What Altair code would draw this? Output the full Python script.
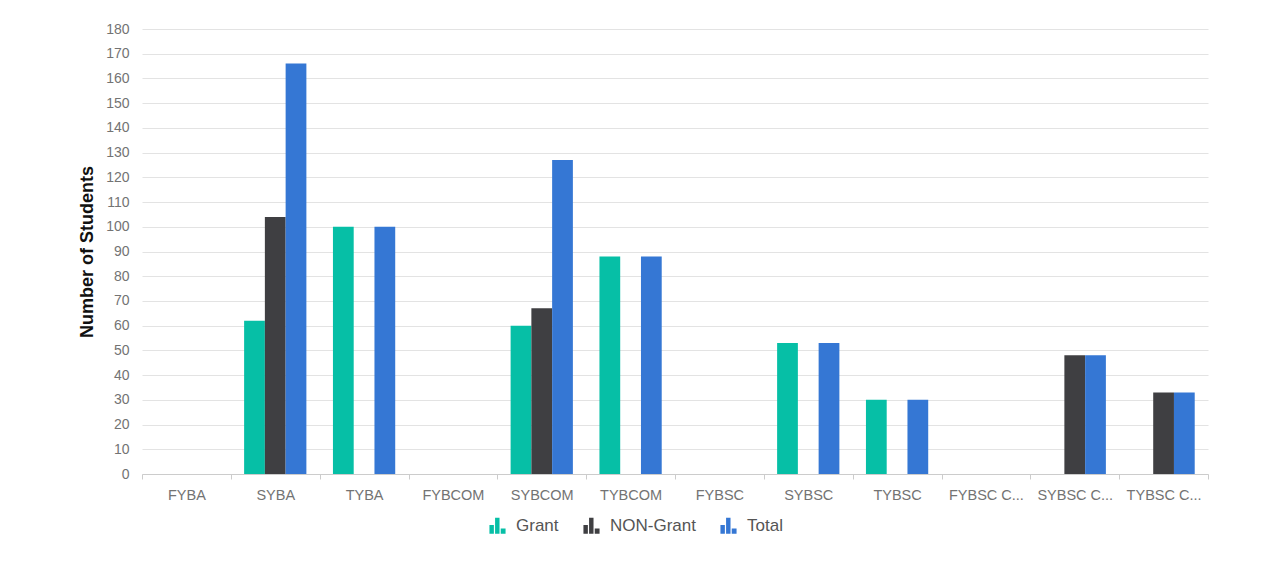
import altair as alt
import pandas as pd

categories = ["FYBA", "SYBA", "TYBA", "FYBCOM", "SYBCOM", "TYBCOM", "FYBSC",
              "SYBSC", "TYBSC", "FYBSC C...", "SYBSC C...", "TYBSC C..."]
grant = [0, 62, 100, 0, 60, 88, 0, 53, 30, 0, 0, 0]
non_grant = [0, 104, 0, 0, 67, 0, 0, 0, 0, 0, 48, 33]
total = [0, 166, 100, 0, 127, 88, 0, 53, 30, 0, 48, 33]
series = ["Grant", "NON-Grant", "Total"]
colors = ["#06bfa6", "#3f3f42", "#3577d4"]

rows = []
for i, c in enumerate(categories):
    for s, vals in zip(series, [grant, non_grant, total]):
        rows.append({"Course": c, "Type": s, "Students": vals[i]})
df = pd.DataFrame(rows)

icon = ("M-1,1 L-1,-0.1 L-0.45,-0.1 L-0.45,1 Z "
        "M-0.3,1 L-0.3,-1 L0.25,-1 L0.25,1 Z "
        "M0.4,1 L0.4,0.35 L1,0.35 L1,1 Z")

FONT = "Liberation Sans"

chart = alt.Chart(df).mark_bar().encode(
    x=alt.X("Course:N", sort=categories, title=None,
            scale=alt.Scale(paddingInner=0, paddingOuter=0),
            axis=alt.Axis(labelAngle=0, labelColor="#737373", labelFontSize=14.5,
                          labelFont=FONT, labelPadding=9, tickBand="extent",
                          ticks=True, tickSize=5, tickColor="#cccccc",
                          domainColor="#cccccc", grid=False, labelLimit=200)),
    xOffset=alt.XOffset("Type:N", sort=series,
                        scale=alt.Scale(paddingInner=0, paddingOuter=0.64)),
    y=alt.Y("Students:Q", title="Number of Students",
            scale=alt.Scale(domain=[0, 180], nice=False),
            axis=alt.Axis(values=list(range(0, 181, 10)), labelColor="#737373",
                          labelFontSize=14, labelFont=FONT, ticks=False,
                          labelPadding=13, domain=False, gridColor="#e3e3e3",
                          titleFont=FONT, titleFontSize=18, titleFontWeight="bold",
                          titleColor="#111111", titlePadding=9)),
    color=alt.Color("Type:N", sort=series,
                    scale=alt.Scale(domain=series, range=colors),
                    legend=alt.Legend(title=None, orient="none", direction="horizontal",
                                      legendX=347, legendY=488, symbolType=icon,
                                      symbolSize=260, symbolStrokeWidth=0,
                                      labelFontSize=17, labelFont=FONT,
                                      labelColor="#555555", labelOffset=10,
                                      columnPadding=24)),
).properties(
    width=1066, height=445,
    autosize=alt.AutoSizeParams(type="none"),
    padding={"left": 134, "top": 21, "right": 55, "bottom": 90},
).configure(background="white").configure_view(stroke=None)

chart.save("out.html", embed_options={"renderer": "svg", "actions": False})
